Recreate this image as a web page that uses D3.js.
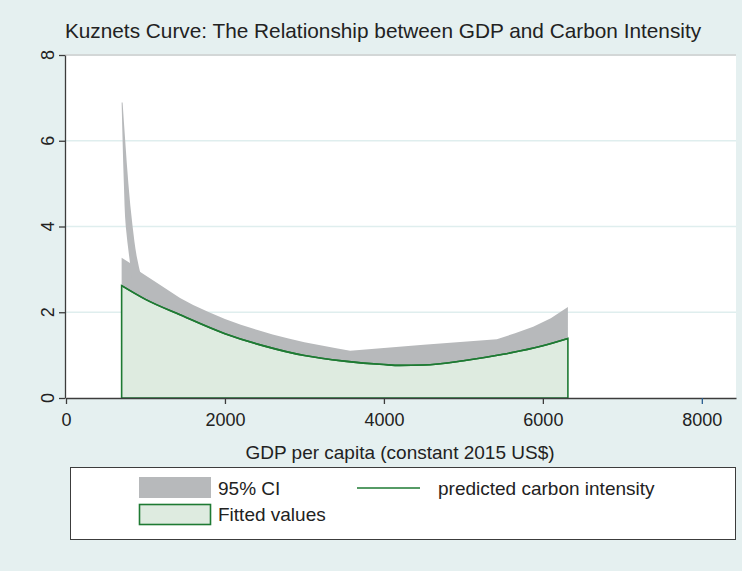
<!DOCTYPE html>
<html>
<head>
<meta charset="utf-8">
<script src="https://cdn.jsdelivr.net/npm/d3@7"></script>
<style>
  body { margin: 0; background: #e5f0f0; }
  svg { display: block; font-family: "Liberation Sans", Arial, sans-serif; }
</style>
</head>
<body>
<div id="wrapper"></div>
<script>
// fitted values
const fitGdp = [700, 1000, 1435, 2000, 2500, 3000, 3500, 4000, 4200, 4500, 5000, 5500, 6000, 6315]
const fitValues = [2.62, 2.30, 1.94, 1.50, 1.21, 0.99, 0.86, 0.78, 0.76, 0.77, 0.87, 1.02, 1.22, 1.39]

// 95% CI band
const ciGdp = [700, 830, 935, 1200, 1435, 1600, 1800, 2000, 2200, 2400, 2600, 2800, 3000, 3200, 3400, 3575, 4500, 5421, 5650, 5878, 6100, 6315]
const ciHigh = [3.27, 3.12, 2.94, 2.62, 2.33, 2.17, 2.00, 1.84, 1.71, 1.59, 1.48, 1.39, 1.30, 1.23, 1.16, 1.10, 1.24, 1.37, 1.51, 1.66, 1.86, 2.12]
const ciLow = [1.97, 1.95, 1.90, 1.70, 1.55, 1.45, 1.30, 1.20, 1.10, 1.00, 0.95, 0.85, 0.75, 0.65, 0.60, 0.55, 0.40, 0.50, 0.55, 0.60, 0.65, 0.66]

// out-of-order observations of the CI near the lowest GDP (the thin spike)
const spikeCI = [6.89, 6.0, 5.0, 4.0, 3.3, 2.8]
const spikeGdpLeft = [700, 712, 728, 752, 795, 830]
const spikeGdpRight = [712, 745, 785, 838, 890, 950]

const xTicks = [0, 2000, 4000, 6000, 8000]
const yTicks = [0, 2, 4, 6, 8]

const colors = {
  bg: "#e5f0f0",
  grid: "#dfeeee",
  ci: "#b7b9bb",
  fitFill: "#deebe0",
  green: "#1e7a33",
  axis: "#3c3c3c",
  text: "#222"
}

function drawChart() {
  const dimensions = {
    width: 742,
    height: 571,
    plot: { left: 65, right: 736, top: 55, bottom: 398 }
  }

  const svg = d3.select("#wrapper")
    .append("svg")
      .attr("width", dimensions.width)
      .attr("height", dimensions.height)

  svg.append("rect")
    .attr("width", dimensions.width)
    .attr("height", dimensions.height)
    .attr("fill", colors.bg)

  const xScale = d3.scaleLinear()
    .domain([0, 8430])
    .range([dimensions.plot.left + 1, dimensions.plot.right])

  const yScale = d3.scaleLinear()
    .domain([0, 8])
    .range([dimensions.plot.bottom, dimensions.plot.top])

  // plot region
  svg.append("rect")
    .attr("x", dimensions.plot.left)
    .attr("y", dimensions.plot.top - 1)
    .attr("width", dimensions.plot.right - dimensions.plot.left)
    .attr("height", dimensions.plot.bottom - dimensions.plot.top + 1)
    .attr("fill", "white")

  // grid
  svg.append("g").selectAll("line")
    .data(yTicks.filter(d => d > 0))
    .enter().append("line")
      .attr("x1", dimensions.plot.left)
      .attr("x2", dimensions.plot.right)
      .attr("y1", d => yScale(d))
      .attr("y2", d => yScale(d))
      .attr("stroke", d => d === 8 ? "#c4caca" : colors.grid)
      .attr("stroke-width", 1.5)

  // CI band
  const ciData = ciGdp.map((g, i) => ({ gdp: g, lo: ciLow[i], hi: ciHigh[i] }))
  const ciArea = d3.area()
    .x(d => xScale(d.gdp))
    .y0(d => yScale(d.lo))
    .y1(d => yScale(d.hi))

  svg.append("path")
    .datum(ciData)
    .attr("d", ciArea)
    .attr("fill", colors.ci)

  const spikeData = spikeCI.map((v, i) => ({ ci: v, left: spikeGdpLeft[i], right: spikeGdpRight[i] }))
  const spikeArea = d3.area()
    .y(d => yScale(d.ci))
    .x0(d => xScale(d.left))
    .x1(d => xScale(d.right))
    .curve(d3.curveMonotoneY)

  svg.append("path")
    .datum(spikeData.slice().reverse())
    .attr("d", spikeArea)
    .attr("fill", colors.ci)

  // fitted values area + predicted line
  const fitData = fitGdp.map((g, i) => ({ gdp: g, v: fitValues[i] }))
  const fitArea = d3.area()
    .x(d => xScale(d.gdp))
    .y0(yScale(0))
    .y1(d => yScale(d.v))
    .curve(d3.curveMonotoneX)

  svg.append("path")
    .datum(fitData)
    .attr("d", fitArea)
    .attr("fill", colors.fitFill)
    .attr("stroke", colors.green)
    .attr("stroke-width", 1.6)

  const fitLine = d3.line()
    .x(d => xScale(d.gdp))
    .y(d => yScale(d.v))
    .curve(d3.curveMonotoneX)

  svg.append("path")
    .datum(fitData)
    .attr("d", fitLine)
    .attr("fill", "none")
    .attr("stroke", colors.green)
    .attr("stroke-width", 1.6)

  // axes
  const xAxis = svg.append("g")
    .attr("transform", `translate(0, ${dimensions.plot.bottom})`)
    .call(d3.axisBottom(xScale)
      .tickValues(xTicks)
      .tickFormat(d3.format("d"))
      .tickSize(6)
      .tickSizeOuter(0)
      .tickPadding(9))
  xAxis.select(".domain").attr("stroke", colors.axis).attr("stroke-width", 1.3)
  xAxis.selectAll(".tick line")
    .attr("stroke", d => d === 8000 ? "#2a5d8f" : colors.axis)
    .attr("stroke-width", 1.3)
  xAxis.selectAll(".tick text")
    .attr("fill", colors.text)
    .style("font-size", "18px")
    .style("font-family", "Liberation Sans, Arial, sans-serif")

  const yAxis = svg.append("g")
    .attr("transform", `translate(${dimensions.plot.left}, 0)`)
    .call(d3.axisLeft(yScale).tickValues(yTicks).tickSize(6).tickSizeOuter(0).tickFormat(""))
  yAxis.select(".domain").attr("stroke", colors.axis).attr("stroke-width", 1.3)
  yAxis.selectAll(".tick line").attr("stroke", colors.axis).attr("stroke-width", 1.3)

  svg.append("g").selectAll("text")
    .data(yTicks)
    .enter().append("text")
      .attr("transform", d => `translate(${dimensions.plot.left - 11}, ${yScale(d)}) rotate(-90)`)
      .attr("text-anchor", "middle")
      .attr("fill", colors.text)
      .style("font-size", "18px")
      .text(d => d)

  // titles
  svg.append("text")
    .attr("x", 383)
    .attr("y", 38)
    .attr("text-anchor", "middle")
    .attr("fill", colors.text)
    .style("font-size", "20.8px")
    .text("Kuznets Curve: The Relationship between GDP and Carbon Intensity")

  svg.append("text")
    .attr("x", 400)
    .attr("y", 459)
    .attr("text-anchor", "middle")
    .attr("fill", colors.text)
    .style("font-size", "19px")
    .text("GDP per capita (constant 2015 US$)")

  // legend
  const legend = svg.append("g")
  legend.append("rect")
    .attr("x", 70.5)
    .attr("y", 467.5)
    .attr("width", 665)
    .attr("height", 72)
    .attr("fill", "white")
    .attr("stroke", colors.axis)
    .attr("stroke-width", 1)

  legend.append("rect")
    .attr("x", 139).attr("y", 477)
    .attr("width", 72).attr("height", 21)
    .attr("fill", colors.ci)
  legend.append("text")
    .attr("x", 218).attr("y", 495)
    .attr("fill", colors.text)
    .style("font-size", "19px")
    .text("95% CI")

  legend.append("line")
    .attr("x1", 357).attr("x2", 420)
    .attr("y1", 488).attr("y2", 488)
    .attr("stroke", colors.green)
    .attr("stroke-width", 1.6)
  legend.append("text")
    .attr("x", 438).attr("y", 495)
    .attr("fill", colors.text)
    .style("font-size", "19px")
    .text("predicted carbon intensity")

  legend.append("rect")
    .attr("x", 139.5).attr("y", 504.5)
    .attr("width", 71).attr("height", 20)
    .attr("fill", colors.fitFill)
    .attr("stroke", colors.green)
    .attr("stroke-width", 1.6)
  legend.append("text")
    .attr("x", 218).attr("y", 521)
    .attr("fill", colors.text)
    .style("font-size", "19px")
    .text("Fitted values")
}

drawChart()
</script>
</body>
</html>
